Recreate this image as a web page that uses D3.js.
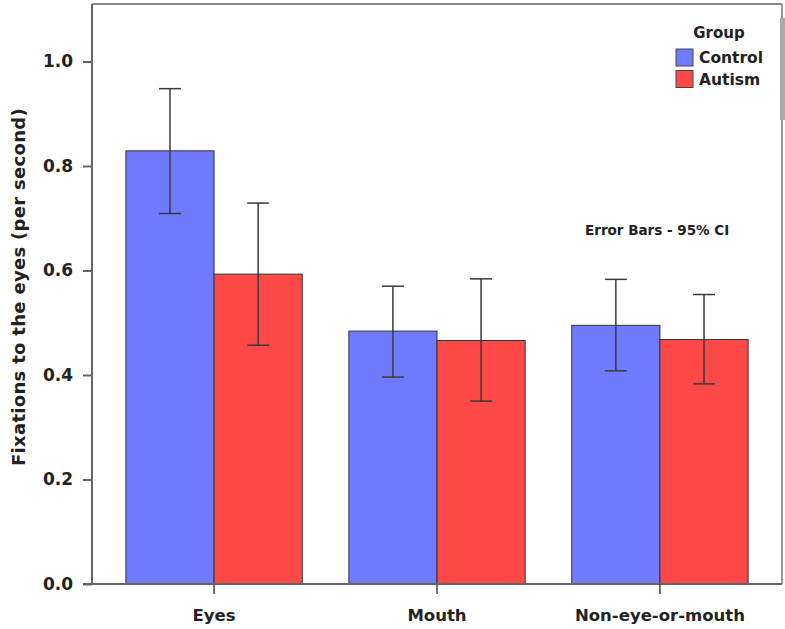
<!DOCTYPE html>
<html><head><meta charset="utf-8">
<script src="https://cdn.jsdelivr.net/npm/d3@7"></script>
<style>body{margin:0;background:#fff}svg{display:block}text{font-family:"DejaVu Sans",sans-serif;font-weight:bold;fill:#222}</style>
</head><body><svg id="c" width="785" height="629"></svg>
<script>
const categories = ["Eyes", "Mouth", "Non-eye-or-mouth"];
const groups = ["Control", "Autism"];
const controlMean = [0.829, 0.484, 0.495];
const controlLow  = [0.709, 0.396, 0.408];
const controlHigh = [0.948, 0.570, 0.583];
const autismMean  = [0.593, 0.466, 0.468];
const autismLow   = [0.457, 0.350, 0.383];
const autismHigh  = [0.729, 0.584, 0.554];
const yTicks = [0.0, 0.2, 0.4, 0.6, 0.8, 1.0];
const colors = ["#6e7bff", "#ff4848"];

const data = [];
categories.forEach((c, i) => {
  data.push({cat: c, g: "Control", mean: controlMean[i], lo: controlLow[i], hi: controlHigh[i]});
  data.push({cat: c, g: "Autism", mean: autismMean[i], lo: autismLow[i], hi: autismHigh[i]});
});

const svg = d3.select("#c");
const L = 92, R = 782, T = 4, B = 584;
const y = d3.scaleLinear().domain([0, 1.11]).range([B, T]);
const x = d3.scaleBand().domain(categories).range([L, R]).paddingInner(0.209).paddingOuter(0.152);
const xg = d3.scaleBand().domain(groups).range([0, x.bandwidth()]);
const color = d3.scaleOrdinal().domain(groups).range(colors);

// frame
svg.append("line").attr("x1", L).attr("x2", R).attr("y1", T).attr("y2", T).attr("stroke", "#888").attr("stroke-width", 2);
svg.append("line").attr("x1", R).attr("x2", R).attr("y1", T).attr("y2", B).attr("stroke", "#999").attr("stroke-width", 2);
svg.append("rect").attr("x", 780).attr("y", 18).attr("width", 5).attr("height", 102).attr("fill", "#aaa");

// bars
svg.append("g").selectAll("rect").data(data).join("rect")
  .attr("x", d => x(d.cat) + xg(d.g))
  .attr("y", d => y(d.mean))
  .attr("width", xg.bandwidth())
  .attr("height", d => y(0) - y(d.mean))
  .attr("fill", d => color(d.g))
  .attr("stroke", "#333").attr("stroke-width", 1);

// error bars
const eb = svg.append("g").attr("stroke", "#3a3a3a").attr("stroke-width", 1.5);
data.forEach(d => {
  const cx = x(d.cat) + xg(d.g) + xg.bandwidth() / 2;
  eb.append("line").attr("x1", cx).attr("x2", cx).attr("y1", y(d.hi)).attr("y2", y(d.lo));
  eb.append("line").attr("x1", cx - 11).attr("x2", cx + 11).attr("y1", y(d.hi)).attr("y2", y(d.hi));
  eb.append("line").attr("x1", cx - 11).attr("x2", cx + 11).attr("y1", y(d.lo)).attr("y2", y(d.lo));
});

// y axis
const yAxis = svg.append("g").attr("transform", `translate(${L},0)`)
  .call(d3.axisLeft(y).tickValues(yTicks).tickFormat(d3.format(".1f")).tickSize(9).tickPadding(10));
yAxis.select(".domain").attr("stroke", "#666").attr("stroke-width", 2).attr("d", `M0,${T}V${B}`);
yAxis.selectAll(".tick line").attr("stroke", "#666").attr("stroke-width", 2);
yAxis.selectAll("text").style("font-size", "17px").attr("fill", "#222");

// x axis
const xAxis = svg.append("g").attr("transform", `translate(0,${B})`)
  .call(d3.axisBottom(x).tickSize(10).tickPadding(15));
xAxis.select(".domain").attr("stroke", "#666").attr("stroke-width", 2).attr("d", `M${L - 9},0H${R}`);
xAxis.selectAll(".tick line").attr("stroke", "#444").attr("stroke-width", 1.5);
xAxis.selectAll("text").style("font-size", "16.5px").attr("fill", "#222");

// y title
svg.append("text").attr("transform", `translate(25,287) rotate(-90)`)
  .attr("text-anchor", "middle").style("font-size", "18px").style("letter-spacing", "0.3px")
  .text("Fixations to the eyes (per second)");

// legend
svg.append("text").attr("x", 719).attr("y", 38).attr("text-anchor", "middle").style("font-size", "15px").style("font-weight", "600").text("Group");
const lg = svg.append("g").selectAll("g").data(groups).join("g")
  .attr("transform", (d, i) => `translate(676,${49 + i * 21.5})`);
lg.append("rect").attr("width", 17).attr("height", 17).attr("fill", d => color(d)).attr("stroke", "#444").attr("stroke-width", 1);
lg.append("text").attr("x", 23).attr("y", 14).style("font-size", "15.5px").style("font-weight", "600").text(d => d);

// note
svg.append("text").attr("x", 585).attr("y", 235).style("font-size", "13.5px").text("Error Bars - 95% CI");
</script></body></html>
